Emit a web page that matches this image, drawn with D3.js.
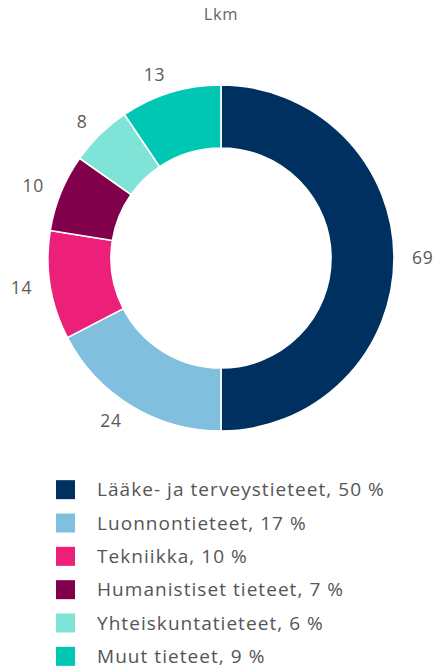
<!DOCTYPE html>
<html><head><meta charset="utf-8">
<script src="https://cdn.jsdelivr.net/npm/d3@7/dist/d3.min.js"></script>
<style>
html,body{margin:0;padding:0;background:#fff;}
svg{display:block;font-family:"Open Sans","Noto Sans",sans-serif;}
</style></head>
<body>
<svg id="c" width="437" height="669"></svg>
<script>
const categories = ["Lääke- ja terveystieteet","Luonnontieteet","Tekniikka","Humanistiset tieteet","Yhteiskuntatieteet","Muut tieteet"];
const values = [69,24,14,10,8,13];
const percents = [50,17,10,7,6,9];
const colors = ["#00305f","#80c0de","#ec2079","#80004b","#80e3d8","#00c7b3"];
const subtitle = "Lkm";

const svg = d3.select("#c");
const cx = 221, cy = 258, rOuter = 173, rInner = 110, rLabel = 191;

svg.append("text").attr("x", cx).attr("y", 20).attr("text-anchor","middle")
  .attr("font-size", 16.5).attr("letter-spacing", 0.6).attr("fill","#666").text(subtitle);

const pie = d3.pie().sort(null).value(d => d)(values);
const arc = d3.arc().innerRadius(rInner).outerRadius(rOuter);
const g = svg.append("g").attr("transform", `translate(${cx},${cy})`);
g.selectAll("path").data(pie).join("path")
  .attr("d", arc).attr("fill", (d,i) => colors[i])
  .attr("stroke","#fff").attr("stroke-width",1.6).attr("stroke-linejoin","round");

g.selectAll("text.lbl").data(pie).join("text").attr("class","lbl")
  .each(function(d){
    const a = (d.startAngle + d.endAngle)/2;
    const x = Math.sin(a)*rLabel, y = -Math.cos(a)*rLabel;
    d3.select(this).attr("x", x).attr("y", y)
      .attr("text-anchor", x >= 0 ? "start" : "end")
      .attr("dy","0.35em");
  })
  .attr("font-size", 17.5).attr("letter-spacing", 0.8).attr("fill","#5a5a5a")
  .text(d => d.data);

const leg = svg.append("g");
const rowY = d3.scaleBand().domain(d3.range(categories.length)).range([473, 673]);
const items = leg.selectAll("g").data(categories).join("g")
  .attr("transform", (d,i) => `translate(56,${rowY(i) + rowY.bandwidth()/2})`);
items.append("rect").attr("x",0).attr("y",-9.5).attr("width",19).attr("height",19)
  .attr("fill",(d,i)=>colors[i]);
items.append("text").attr("x",41).attr("y",0).attr("dy","0.35em")
  .attr("font-size",19).attr("letter-spacing",1.05).attr("fill","#555")
  .text((d,i)=> `${d}, ${percents[i]} %`);
</script>
</body></html>
